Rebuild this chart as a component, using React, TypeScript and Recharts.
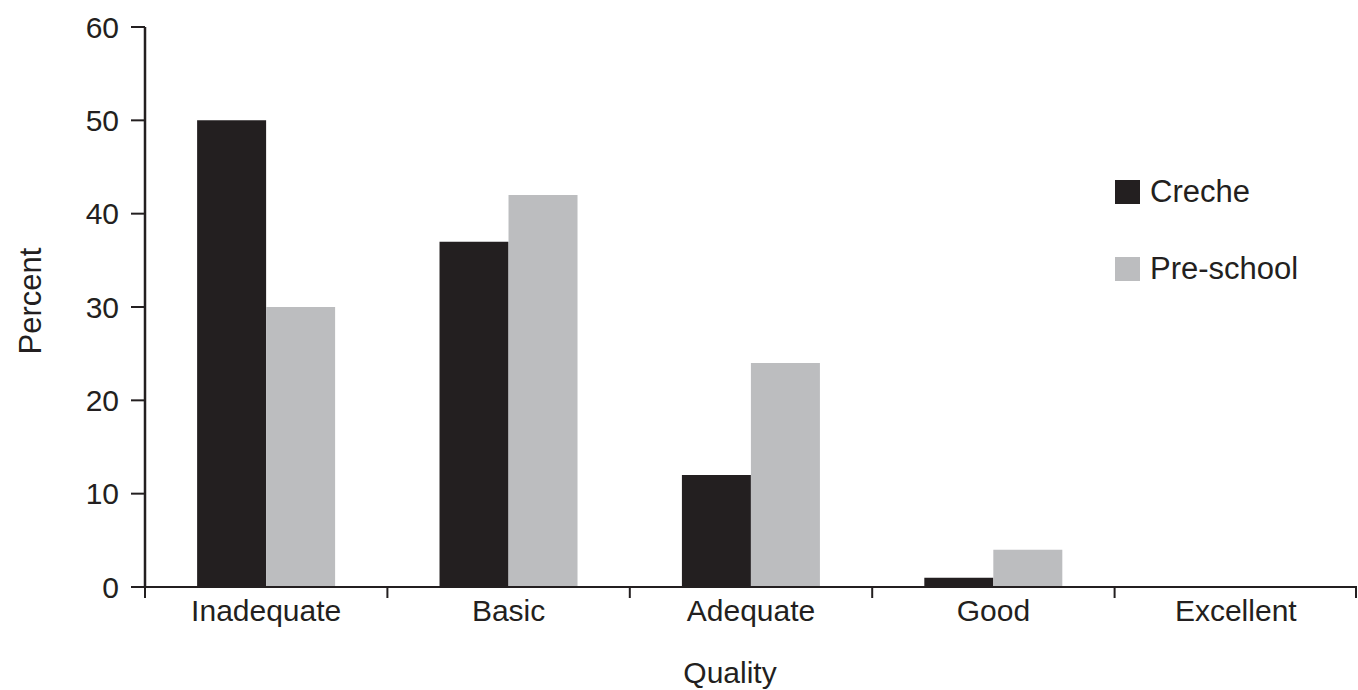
import React from 'react';
import { BarChart, Bar, XAxis, YAxis, Legend } from 'recharts';

const categories = ['Inadequate', 'Basic', 'Adequate', 'Good', 'Excellent'];
const crecheValues = [50, 37, 12, 1, 0];
const preschoolValues = [30, 42, 24, 4, 0];
const yTicks = [0, 10, 20, 30, 40, 50, 60];
const seriesNames = ['Creche', 'Pre-school'];
const xTitle = 'Quality';
const yTitle = 'Percent';

const data = categories.map((c, i) => ({
  quality: c,
  creche: crecheValues[i],
  preschool: preschoolValues[i],
}));

const W = 1358;
const H = 690;
const M = { top: 27, right: 1, left: 0, bottom: 0 };
const Y_W = 145;
const X_H = 103;
const PLOT_LEFT = M.left + Y_W;
const PLOT_RIGHT = W - M.right;
const PLOT_BOTTOM = H - M.bottom - X_H;
const HALF_BAND = (PLOT_RIGHT - PLOT_LEFT) / categories.length / 2;
const INK = '#231f20';
const GREY = '#bcbdbf';
const FONT = '"Liberation Sans", Arial, Helvetica, sans-serif';

const XTick = (props: any) => {
  const { x, payload } = props;
  const cx = Number(x);
  const idx = categories.indexOf(payload.value);
  return (
    <g>
      <line x1={cx - HALF_BAND} x2={cx - HALF_BAND} y1={PLOT_BOTTOM} y2={PLOT_BOTTOM + 11} stroke={INK} strokeWidth={2} />
      {idx === categories.length - 1 && (
        <line x1={cx + HALF_BAND - 1} x2={cx + HALF_BAND - 1} y1={PLOT_BOTTOM} y2={PLOT_BOTTOM + 11} stroke={INK} strokeWidth={2} />
      )}
      <text x={cx} y={PLOT_BOTTOM + 34} textAnchor="middle" fontSize={30} fill={INK} fontFamily={FONT}>
        {payload.value}
      </text>
    </g>
  );
};

const renderLegend = (props: any) => (
  <div>
    {(props.payload || []).map((e: any) => (
      <div key={e.value} style={{ display: 'flex', alignItems: 'center', height: 25, marginBottom: 52 }}>
        <span style={{ display: 'inline-block', width: 25, height: 24, background: e.color, marginRight: 10 }} />
        <span style={{ fontSize: 31, color: INK, fontFamily: FONT, lineHeight: '25px' }}>{e.value}</span>
      </div>
    ))}
  </div>
);

export default function App() {
  return (
    <div style={{ position: 'absolute', left: 0, top: 0, width: W, height: H, background: '#fff' }}>
      <BarChart
        width={W}
        height={H}
        data={data}
        margin={M}
        barCategoryGap="21.5%"
        barGap={0}
        style={{ fontFamily: FONT }}
      >
        <XAxis
          dataKey="quality"
          height={X_H}
          tickLine={false}
          axisLine={{ stroke: INK, strokeWidth: 2 }}
          tick={<XTick />}
          interval={0}
          label={{
            value: xTitle,
            content: (p: any) => {
              const vb = p.viewBox || {};
              const cx = vb.x + vb.width / 2 - 21;
              return (
                <text x={cx} y={683} textAnchor="middle" fontSize={30} fill={INK} fontFamily={FONT}>
                  {xTitle}
                </text>
              );
            },
          }}
        />
        <YAxis
          width={Y_W}
          domain={[0, 60]}
          ticks={yTicks}
          interval={0}
          tickSize={14}
          tickMargin={12}
          tickLine={{ stroke: INK, strokeWidth: 2 }}
          axisLine={{ stroke: INK, strokeWidth: 2.5 }}
          tick={{ fontSize: 30, fill: INK, fontFamily: FONT }}
          label={{
            value: yTitle,
            content: (p: any) => {
              const vb = p.viewBox || {};
              const cy = vb.y + vb.height / 2 - 6;
              const cx = 30;
              return (
                <text
                  x={cx}
                  y={cy}
                  transform={`rotate(-90 ${cx} ${cy})`}
                  textAnchor="middle"
                  dominantBaseline="central"
                  fontSize={31}
                  fill={INK}
                  fontFamily={FONT}
                >
                  {yTitle}
                </text>
              );
            },
          }}
        />
        <Legend
          layout="horizontal"
          verticalAlign="middle"
          align="center"
          wrapperStyle={{ left: 1115, top: 179, right: 'auto', bottom: 'auto', width: 260 }}
          content={renderLegend}
        />
        <Bar dataKey="creche" name={seriesNames[0]} fill={INK} isAnimationActive={false} />
        <Bar dataKey="preschool" name={seriesNames[1]} fill={GREY} isAnimationActive={false} />
      </BarChart>
    </div>
  );
}
